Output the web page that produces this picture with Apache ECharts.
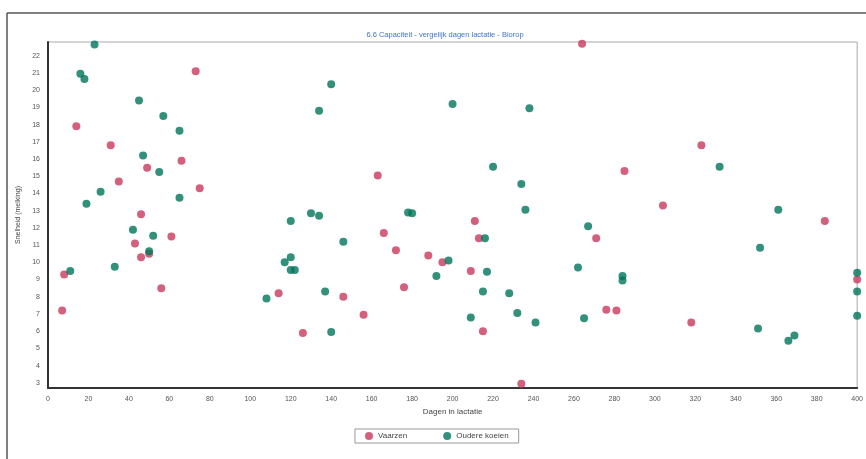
<!DOCTYPE html>
<html>
<head>
<meta charset="utf-8">
<script src="https://cdn.jsdelivr.net/npm/echarts@6/dist/echarts.min.js"></script>
<style>html,body{margin:0;padding:0;background:#fff;}#c{width:866px;height:459px;}</style>
</head>
<body>
<div id="c"></div>
<script>
var titleText = '6.6 Capaciteit - vergelijk dagen lactatie - Biorop';
var xName = 'Dagen in lactatie';
var yName = 'Snelheid (melking)';
var seriesNames = ['Vaarzen', 'Oudere koeien'];
var yTickLabels = [3,4,5,6,7,8,9,10,11,12,13,14,15,16,17,18,19,20,21,22];

var vaarzen = [
  [7,7.2],[8,9.3],[14,17.9],[31,16.8],[35,14.7],[49,15.5],[66,15.9],[73,21.1],[75,14.3],
  [46,12.8],[43,11.1],[46,10.3],[50,10.5],[61,11.5],[56,8.5],[114,8.2],
  [126,5.9],[146,8.0],[156,6.95],[166,11.7],[172,10.7],[163,15.05],[176,8.55],[188,10.4],
  [195,10.0],[209,9.5],[211,12.4],[213,11.4],[215,6.0],[234,2.95],[264,22.7],
  [285,15.3],[323,16.8],[304,13.3],[384,12.4],[271,11.4],[276,7.25],[281,7.2],[318,6.5],[400,9.0]
];
var oudereKoeien = [
  [23,22.65],[16,20.95],[18,20.65],[45,19.4],[57,18.5],[65,17.65],[47,16.2],[55,15.25],
  [26,14.1],[19,13.4],[65,13.75],[11,9.5],[33,9.75],[42,11.9],[52,11.55],[50,10.65],
  [108,7.9],[120,12.4],[120,10.3],[117,10.0],[120,9.55],[122,9.55],
  [140,20.35],[134,18.8],[200,19.2],[238,18.95],[220,15.55],[234,14.55],[236,13.05],
  [130,12.85],[134,12.7],[178,12.9],[180,12.85],[146,11.2],[137,8.3],[140,5.95],
  [192,9.2],[198,10.1],[216,11.4],[217,9.45],[215,8.3],[228,8.2],[209,6.8],[232,7.05],[241,6.5],
  [262,9.7],[267,12.1],[265,6.75],[284,9.2],[284,8.95],
  [332,15.55],[361,13.05],[352,10.85],[351,6.15],[366,5.45],[369,5.75],
  [400,9.4],[400,8.3],[400,6.9]
];

var chart = echarts.init(document.getElementById('c'));
chart.setOption({
  animation: false,
  backgroundColor: '#fff',
  title: {
    text: titleText,
    left: 440, top: 26, textAlign: 'center',
    textStyle: { fontSize: 7.5, fontWeight: 'normal', color: '#3f74c8', fontFamily: 'Arial, Liberation Sans, sans-serif' }
  },
  graphic: [
    { type: 'line', shape: { x1: 7, y1: 13, x2: 866, y2: 13 }, style: { stroke: '#555', lineWidth: 1.5 }, silent: true },
    { type: 'line', shape: { x1: 7, y1: 13, x2: 7, y2: 459 }, style: { stroke: '#555', lineWidth: 1.5 }, silent: true }
  ],
  legend: {
    data: seriesNames,
    left: 355, top: 429,
    itemGap: 36,
    padding: [3, 10, 3, 10],
    borderColor: '#999', borderWidth: 1,
    icon: 'circle', itemWidth: 8, itemHeight: 8,
    textStyle: { fontSize: 8, color: '#444', fontFamily: 'Arial, Liberation Sans, sans-serif' }
  },
  grid: {
    left: 48, right: 5, top: 42, bottom: 71,
    show: true, borderColor: '#aaa', borderWidth: 1
  },
  xAxis: {
    type: 'value', min: 0, max: 400, interval: 20,
    name: xName, nameLocation: 'middle', nameGap: 16,
    nameTextStyle: { fontSize: 8, color: '#444', fontFamily: 'Arial, Liberation Sans, sans-serif' },
    axisLine: { show: true, lineStyle: { color: '#333', width: 2 } },
    axisTick: { show: false },
    splitLine: { show: false },
    axisLabel: { fontSize: 7, color: '#555', margin: 8, fontFamily: 'Arial, Liberation Sans, sans-serif' }
  },
  yAxis: {
    type: 'value', min: 2.7, max: 22.8,
    name: yName, nameLocation: 'middle', nameGap: 26,
    nameTextStyle: { fontSize: 7, color: '#444', fontFamily: 'Arial, Liberation Sans, sans-serif' },
    axisLine: { show: true, lineStyle: { color: '#333', width: 2 } },
    axisTick: { show: false },
    splitLine: { show: false },
    axisLabel: { customValues: yTickLabels, fontSize: 7, color: '#555', margin: 8, fontFamily: 'Arial, Liberation Sans, sans-serif' }
  },
  series: [
    { name: seriesNames[0], type: 'scatter', data: vaarzen, symbolSize: 8, itemStyle: { color: '#c83a5e' } },
    { name: seriesNames[1], type: 'scatter', data: oudereKoeien, symbolSize: 8, itemStyle: { color: '#00765a' } }
  ]
});
</script>
</body>
</html>
